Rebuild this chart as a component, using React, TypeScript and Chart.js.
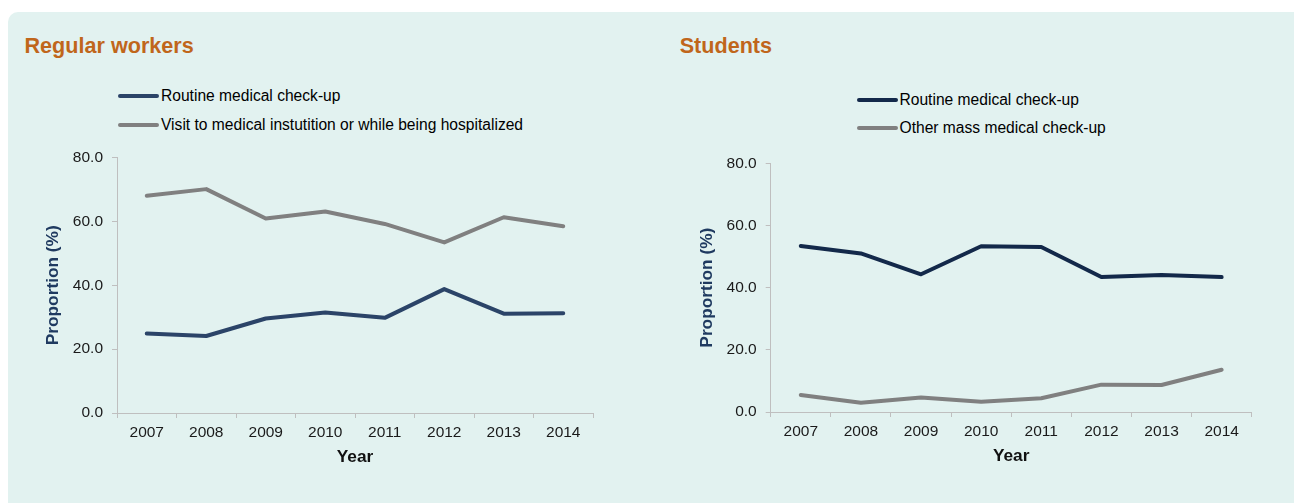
import React, { useEffect, useRef } from "react";
import { Chart, registerables } from "chart.js";

Chart.register(...registerables);

const FONT = "'Liberation Sans', Arial, Helvetica, sans-serif";

const years = ["2007", "2008", "2009", "2010", "2011", "2012", "2013", "2014"];
const workersRoutine = [24.9, 24.1, 29.6, 31.5, 29.8, 38.8, 31.1, 31.2];
const workersVisit = [68.0, 70.1, 60.9, 63.1, 59.2, 53.4, 61.3, 58.5];
const studentsRoutine = [53.4, 51.0, 44.3, 53.3, 53.1, 43.4, 44.1, 43.4];
const studentsOther = [5.5, 3.0, 4.7, 3.3, 4.4, 8.8, 8.7, 13.6];
const yMin = 0;
const yMax = 80;
const yStep = 20;

const workersLabels = ["Routine medical check-up", "Visit to medical instutition or while being hospitalized"];
const studentsLabels = ["Routine medical check-up", "Other mass medical check-up"];

const BLUE = "#2b4468";
const NAVY = "#13294a";
const GRAY = "#808080";
const AXIS = "#bfbfbf";
const ORANGE = "#c0661b";
const YTITLE = "#1f3a60";

type Series = { label: string; data: number[]; color: string };

type ChartBoxProps = {
  left: number;
  top: number;
  width: number;
  height: number;
  series: Series[];
  pad: { left: number; right: number; top: number; bottom: number };
  yAxisWidth: number;
  xAxisHeight: number;
};

function LineChartBox(props: ChartBoxProps) {
  const ref = useRef<HTMLCanvasElement | null>(null);
  useEffect(() => {
    if (!ref.current) return;
    const chart = new Chart(ref.current, {
      type: "line",
      data: {
        labels: years,
        datasets: props.series.map((s) => ({
          label: s.label,
          data: s.data,
          borderColor: s.color,
          backgroundColor: s.color,
          borderWidth: 4,
          pointRadius: 0,
          pointHoverRadius: 0,
          tension: 0,
          borderCapStyle: "round" as const,
          borderJoinStyle: "round" as const,
          fill: false,
        })),
      },
      options: {
        animation: false,
        responsive: false,
        maintainAspectRatio: false,
        devicePixelRatio: 1,
        layout: { padding: props.pad },
        plugins: {
          legend: { display: false },
          tooltip: { enabled: false },
          title: { display: false },
        },
        scales: {
          x: {
            type: "category",
            offset: true,
            grid: {
              display: true,
              offset: true,
              drawOnChartArea: false,
              drawTicks: true,
              tickLength: 5,
              color: AXIS,
              lineWidth: 1,
            },
            border: { display: true, color: AXIS, width: 1 },
            ticks: {
              color: "#1a1a1a",
              font: { family: FONT, size: 15.5 },
              padding: 5,
              maxRotation: 0,
              autoSkip: false,
            },
            title: {
              display: true,
              text: "Year",
              color: "#111111",
              font: { family: FONT, size: 17.3, weight: "bold" },
              padding: 0,
            },
            afterFit: (scale: any) => {
              scale.height = props.xAxisHeight;
            },
          },
          y: {
            min: yMin,
            max: yMax,
            grid: {
              display: true,
              drawOnChartArea: false,
              drawTicks: true,
              tickLength: 5,
              color: AXIS,
              lineWidth: 1,
            },
            border: { display: true, color: AXIS, width: 1 },
            ticks: {
              stepSize: yStep,
              color: "#1a1a1a",
              font: { family: FONT, size: 15.5 },
              padding: 9,
              callback: (v: any) => Number(v).toFixed(1),
            },
            title: {
              display: true,
              text: "Proportion (%)",
              color: YTITLE,
              font: { family: FONT, size: 17.3, weight: "bold" },
              padding: 0,
            },
            afterFit: (scale: any) => {
              scale.width = props.yAxisWidth;
            },
          },
        },
      },
    });
    return () => chart.destroy();
  }, []);
  return (
    <canvas
      ref={ref}
      width={props.width}
      height={props.height}
      style={{
        position: "absolute",
        left: props.left,
        top: props.top,
        width: props.width,
        height: props.height,
      }}
    />
  );
}

function LegendItem(props: { x: number; y: number; textX: number; lineW: number; color: string; text: string }) {
  return (
    <>
      <div
        style={{
          position: "absolute",
          left: props.x,
          top: props.y - 2,
          width: props.lineW,
          height: 4,
          borderRadius: 2,
          background: props.color,
        }}
      />
      <div
        style={{
          position: "absolute",
          left: props.textX,
          top: props.y - 9.2,
          fontFamily: FONT,
          fontSize: 15.6,
          lineHeight: "18px",
          color: "#000",
          whiteSpace: "nowrap",
        }}
      >
        {props.text}
      </div>
    </>
  );
}

function Title(props: { x: number; text: string }) {
  return (
    <div
      style={{
        position: "absolute",
        left: props.x,
        top: 35,
        fontFamily: FONT,
        fontSize: 21.6,
        fontWeight: "bold",
        lineHeight: "21px",
        color: ORANGE,
        whiteSpace: "nowrap",
      }}
    >
      {props.text}
    </div>
  );
}

export default function App() {
  useEffect(() => {
    document.body.style.margin = "0";
    document.body.style.background = "#ffffff";
  }, []);
  return (
    <div
      style={{
        position: "fixed",
        left: 0,
        top: 0,
        width: 1294,
        height: 503,
        overflow: "hidden",
        background: "#ffffff",
      }}
    >
      <div
        style={{
          position: "absolute",
          left: 8,
          top: 12,
          width: 1320,
          height: 520,
          borderRadius: 10,
          background: "#e2f2f0",
        }}
      />
      <Title x={24.5} text="Regular workers" />
      <Title x={679.7} text="Students" />
      <LegendItem x={118} y={96} textX={161} lineW={41} color={BLUE} text={workersLabels[0]} />
      <LegendItem x={118} y={125} textX={161} lineW={41} color={GRAY} text={workersLabels[1]} />
      <LegendItem x={857} y={100} textX={899.5} lineW={41} color={NAVY} text={studentsLabels[0]} />
      <LegendItem x={857} y={127.7} textX={899.5} lineW={41} color={GRAY} text={studentsLabels[1]} />
      <LineChartBox
        left={20}
        top={130}
        width={600}
        height={350}
        series={[
          { label: workersLabels[0], data: workersRoutine, color: BLUE },
          { label: workersLabels[1], data: workersVisit, color: GRAY },
        ]}
        pad={{ left: 22.5, right: 27, top: 27.5, bottom: 12.5 }}
        yAxisWidth={74.5}
        xAxisHeight={54.5}
      />
      <LineChartBox
        left={680}
        top={130}
        width={600}
        height={350}
        series={[
          { label: studentsLabels[0], data: studentsRoutine, color: NAVY },
          { label: studentsLabels[1], data: studentsOther, color: GRAY },
        ]}
        pad={{ left: 17.3, right: 28.3, top: 33.3, bottom: 13.5 }}
        yAxisWidth={73.4}
        xAxisHeight={54.5}
      />
    </div>
  );
}
